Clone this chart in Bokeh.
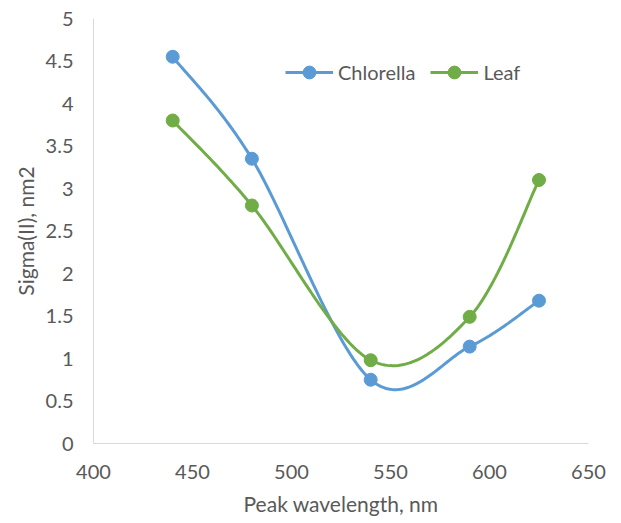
import numpy as np
from bokeh.plotting import figure
from bokeh.models import Legend, LegendItem, Range1d, FixedTicker
from bokeh.embed import file_html
from bokeh.resources import INLINE

# ---- data ----
wavelength = [440, 480, 540, 590, 625]
chlorella = [4.55, 3.35, 0.75, 1.14, 1.68]
leaf = [3.8, 2.8, 0.98, 1.49, 3.1]
series_names = ["Chlorella", "Leaf"]
x_ticks = [400, 450, 500, 550, 600, 650]
y_ticks = [0, 0.5, 1, 1.5, 2, 2.5, 3, 3.5, 4, 4.5, 5]
y_tick_labels = ["0", "0.5", "1", "1.5", "2", "2.5", "3", "3.5", "4", "4.5", "5"]

BLUE = "#5B9BD5"
GREEN = "#70AD47"
TEXT = "#595959"
AXIS = "#D9D9D9"
FONT = "Lato"


def smooth(xs, ys, n=40):
    """Excel-like smoothed line: cubic Bezier through the points (Catmull-Rom, 1/6)."""
    P = np.column_stack([np.asarray(xs, float), np.asarray(ys, float)])
    t = np.linspace(0, 1, n)[:, None]
    out = []
    for i in range(len(P) - 1):
        p0 = P[max(i - 1, 0)]
        p1 = P[i]
        p2 = P[i + 1]
        p3 = P[min(i + 2, len(P) - 1)]
        c1 = p1 + (p2 - p0) / 6.0
        c2 = p2 - (p3 - p1) / 6.0
        seg = (1 - t) ** 3 * p1 + 3 * (1 - t) ** 2 * t * c1 + 3 * (1 - t) * t ** 2 * c2 + t ** 3 * p2
        out.append(seg if i == 0 else seg[1:])
    pts = np.vstack(out)
    return pts[:, 0], pts[:, 1]


p = figure(
    frame_width=495, frame_height=425,
    min_border_left=93, min_border_right=20, min_border_top=18, min_border_bottom=62,
    x_range=Range1d(400, 650), y_range=Range1d(0, 5),
    output_backend="svg", toolbar_location=None,
)
p.outline_line_color = None
p.grid.visible = False
p.background_fill_color = "white"
p.border_fill_color = "white"

renderers = []
for name, vals, col in [(series_names[0], chlorella, BLUE), (series_names[1], leaf, GREEN)]:
    sx, sy = smooth(wavelength, vals)
    l = p.line(sx, sy, line_color=col, line_width=3)
    s = p.scatter(wavelength, vals, size=13, fill_color=col, line_color=col)
    renderers.append((name, [l, s]))

for ax in (p.xaxis[0], p.yaxis[0]):
    ax.axis_line_color = AXIS
    ax.axis_line_width = 1
    ax.major_tick_line_color = None
    ax.minor_tick_line_color = None
    ax.major_tick_out = 0
    ax.major_tick_in = 0
    ax.major_label_text_font = FONT
    ax.major_label_text_font_size = "20px"
    ax.major_label_text_color = TEXT
    ax.axis_label_text_font = FONT
    ax.axis_label_text_font_size = "21px"
    ax.axis_label_text_font_style = "normal"
    ax.axis_label_text_color = TEXT

p.xaxis.ticker = FixedTicker(ticks=x_ticks)
p.yaxis.ticker = FixedTicker(ticks=y_ticks)
p.yaxis.major_label_overrides = {v: s for v, s in zip(y_ticks, y_tick_labels)}
p.xaxis.axis_label = "Peak wavelength, nm"
p.yaxis.axis_label = "Sigma(II), nm2"
p.xaxis.major_label_standoff = 21
p.xaxis.axis_label_standoff = 9
p.yaxis.major_label_standoff = 20
p.yaxis.axis_label_standoff = 5

legend = Legend(
    items=[LegendItem(label=n, renderers=r) for n, r in renderers],
    orientation="horizontal",
    location=(192, 355),
    border_line_alpha=0, background_fill_alpha=0,
    padding=0, margin=0, spacing=15, label_standoff=5,
    glyph_width=48, glyph_height=32, label_height=32,
    label_text_font=FONT, label_text_font_size="20px", label_text_color=TEXT,
)
p.add_layout(legend, "center")

open("out.html", "w").write(file_html(p, INLINE))
